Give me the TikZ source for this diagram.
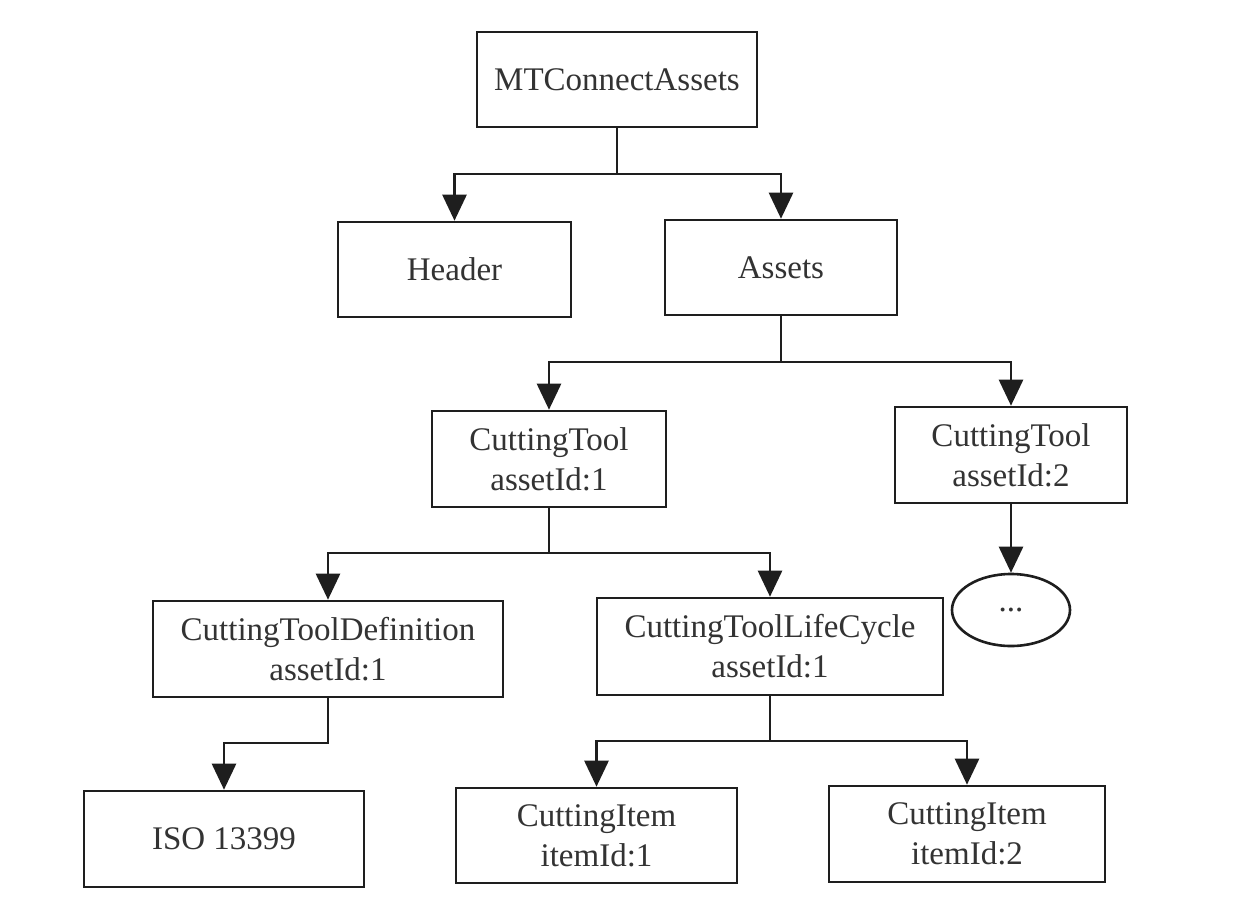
\documentclass[tikz,border=0pt]{standalone}
\usepackage{fontspec}
\setmainfont{Liberation Serif}
\usetikzlibrary{arrows.meta,shapes.geometric}
\definecolor{ink}{HTML}{1E1E1E}
\definecolor{txt}{HTML}{333333}
\begin{document}
\begin{tikzpicture}[x=1pt,y=-1pt,
  box/.style={draw=ink, line width=2.6pt, rectangle, inner sep=0pt, align=center,
    text=txt, font=\fontsize{33}{40}\selectfont, minimum height=96pt},
  oval/.style={draw=ink, line width=2.6pt, ellipse, inner sep=0pt,
    text=txt, font=\fontsize{33}{40}\selectfont},
  link/.style={draw=ink, line width=2.6pt},
  arr/.style={link, -{Triangle[width=24pt,length=26pt]}}]
\fill[white] (0,0) rectangle (1254,916);
\useasboundingbox (0,0) rectangle (1254,916);
% nodes
\node[box, minimum width=280pt, minimum height=95pt] (mtc) at (617,79.5) {MTConnectAssets};
\node[box, minimum width=233pt, minimum height=95pt] (header) at (454.5,269.5) {Header};
\node[box, minimum width=232pt, minimum height=95pt] (assets) at (781,267.5) {Assets};
\node[box, minimum width=234pt] (ct1) at (549,459) {CuttingTool\\assetId:1};
\node[box, minimum width=232pt] (ct2) at (1011,455) {CuttingTool\\assetId:2};
\node[oval, minimum width=118pt, minimum height=72pt] (more) at (1011,610) {...};
\node[box, minimum width=350pt] (ctd) at (328,649) {CuttingToolDefinition\\assetId:1};
\node[box, minimum width=346pt, minimum height=97pt] (ctlc) at (770,646.5) {CuttingToolLifeCycle\\assetId:1};
\node[box, minimum width=280pt] (iso) at (224,839) {ISO 13399};
\node[box, minimum width=281pt, minimum height=95pt] (ci1) at (596.5,835.5) {CuttingItem\\itemId:1};
\node[box, minimum width=276pt] (ci2) at (967,834) {CuttingItem\\itemId:2};
% junctions
\coordinate (j1) at (617,174);
\coordinate (j2) at (781,362);
\coordinate (j3) at (549,553);
\coordinate (j4) at (328,743);
\coordinate (j5) at (770,741);
% connectors
\draw[link] (mtc.south) -- (j1);
\draw[arr] (j1) -| (header.north);
\draw[arr] (j1) -| (assets.north);
\draw[link] (assets.south) -- (j2);
\draw[arr] (j2) -| (ct1.north);
\draw[arr] (j2) -| (ct2.north);
\draw[arr] (ct2.south) -- (more.north);
\draw[link] (ct1.south) -- (j3);
\draw[arr] (j3) -| (ctd.north);
\draw[arr] (j3) -| (ctlc.north);
\draw[arr] (ctd.south) -- (j4) -| (iso.north);
\draw[link] (ctlc.south) -- (j5);
\draw[arr] (j5) -| (ci1.north);
\draw[arr] (j5) -| (ci2.north);
\end{tikzpicture}
\end{document}
